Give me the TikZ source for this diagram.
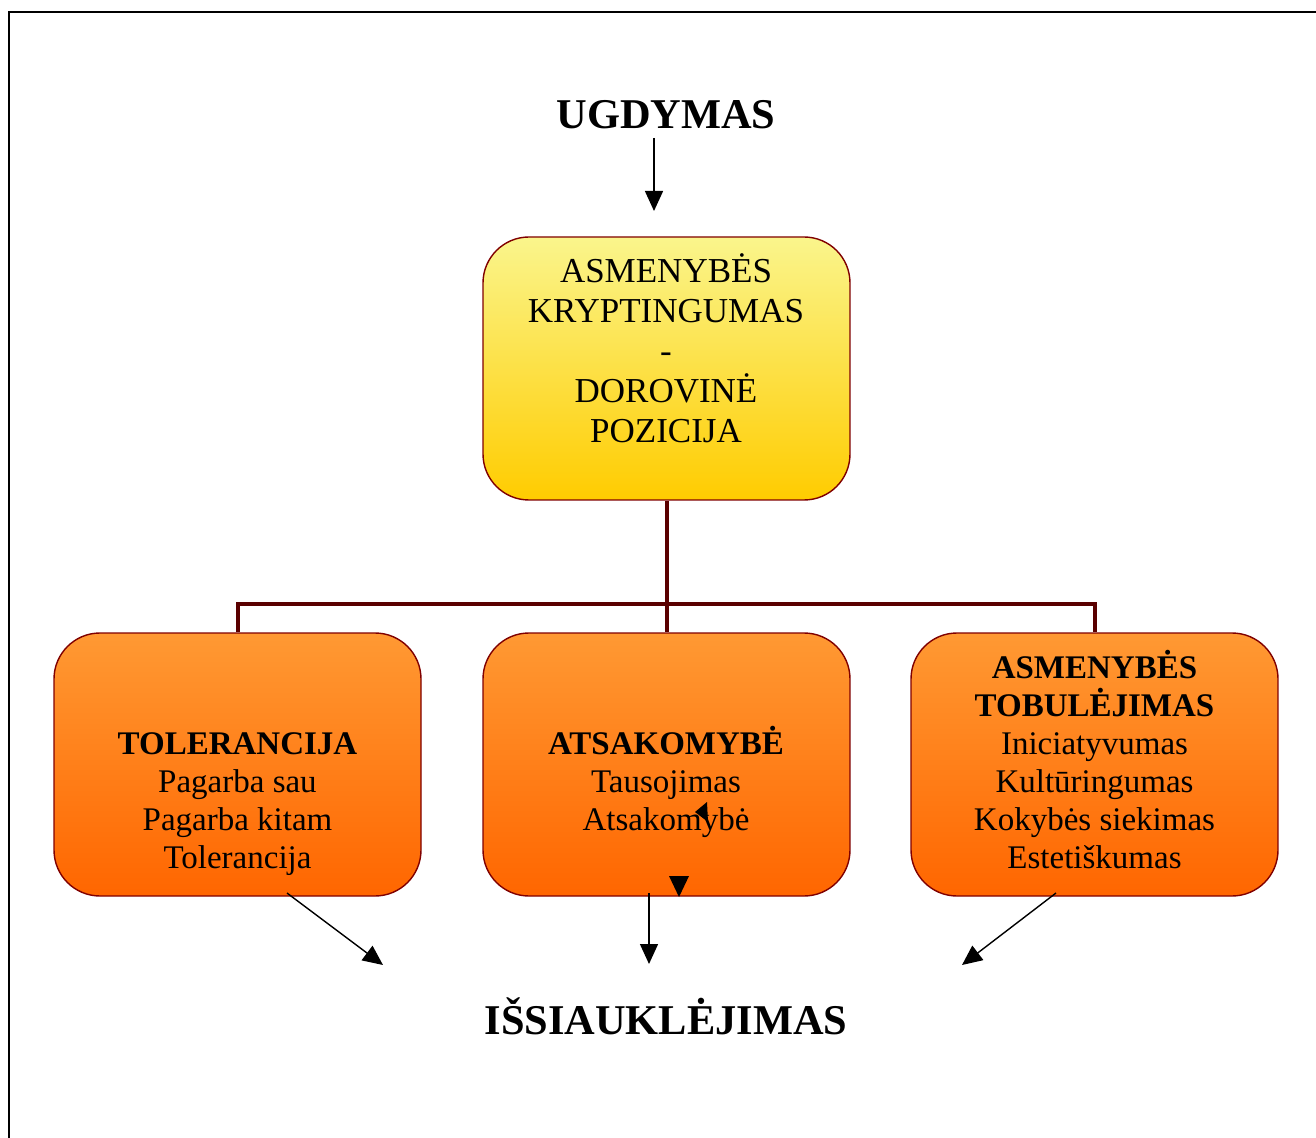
\documentclass[tikz,border=0pt]{standalone}
\usepackage{fontspec}
\setmainfont{Liberation Serif}
\usetikzlibrary{arrows.meta}
\definecolor{boxborder}{RGB}{128,0,0}
\definecolor{connc}{RGB}{90,0,0}
\definecolor{ytop}{RGB}{250,245,140}
\definecolor{ybot}{RGB}{255,204,0}
\definecolor{otop}{RGB}{255,153,51}
\definecolor{obot}{RGB}{255,102,0}
\tikzset{
  boxbase/.style={rectangle, rounded corners=23pt, draw=boxborder, line width=0.7pt,
    minimum width=183.5pt, minimum height=131.5pt, inner sep=0pt},
  ybox/.style={boxbase, top color=ytop, bottom color=ybot},
  obox/.style={boxbase, top color=otop, bottom color=obot},
  boxtxt/.style={align=center, font=\fontsize{16.5}{19}\selectfont, inner sep=0pt},
  toptxt/.style={align=center, font=\fontsize{17.5}{20}\selectfont, inner sep=0pt},
  title/.style={font=\fontsize{21.2}{24}\selectfont\bfseries, inner sep=0pt},
  conn/.style={draw=connc, line width=2pt},
  arr/.style={draw=black, line width=0.7pt, -{Triangle[length=10pt,width=9pt]}}
}
\begin{document}
\begin{tikzpicture}[x=0.5pt, y=-0.5pt]
\useasboundingbox (0,0) rectangle (1316,1138);
\fill[white] (0,0) rectangle (1316,1138);
\draw[line width=1.3pt] (9,1138) -- (9,12) -- (1316,12);

\node[title] (ugd) at (666,115) {UGDYMAS};
\node[title] (iss) at (666,1016) {IŠSIAUKLĖJIMAS};

\node[ybox] (top) at (666.5,368.5) {};
\node[obox] (lbox) at (237.5,764.5) {};
\node[obox] (mbox) at (666.5,764.5) {};
\node[obox] (rbox) at (1094.5,764.5) {};

\node[toptxt] (toptext) at (666,348) {ASMENYBĖS\\KRYPTINGUMAS\\-\\DOROVINĖ\\POZICIJA};
\node[boxtxt] (ltext) at (237.5,804) {\textbf{TOLERANCIJA}\\Pagarba sau\\Pagarba kitam\\Tolerancija};
\node[boxtxt] (mtext) at (666,782) {\textbf{ATSAKOMYBĖ}\\Tausojimas\\Atsakomybė};
\node[boxtxt] (rtext) at (1094.5,760) {\textbf{ASMENYBĖS}\\\textbf{TOBULĖJIMAS}\\Iniciatyvumas\\Kultūringumas\\Kokybės siekimas\\Estetiškumas};

% connectors
\draw[conn] (top.south) -- (mbox.north);
\draw[conn] (lbox.north) -- ++(0,-28) -| (rbox.north);

% arrows
\coordinate (ua) at (654,138);
\coordinate (ub) at (654,211);
\draw[arr] (ua) -- (ub);
\coordinate (la) at (287,893);
\coordinate (lb) at (383,965);
\draw[arr] (la) -- (lb);
\coordinate (ma) at (649,893);
\coordinate (mb) at (649,964);
\draw[arr] (ma) -- (mb);
\coordinate (ra) at (1056,893);
\coordinate (rb) at (962,965);
\draw[arr] (ra) -- (rb);

% stray arrowheads
\fill[black] (679,897) -- (669,876) -- (689,876) -- cycle;
\fill[black] (695,812) -- (707,802) -- (708,822) -- cycle;
\end{tikzpicture}
\end{document}
